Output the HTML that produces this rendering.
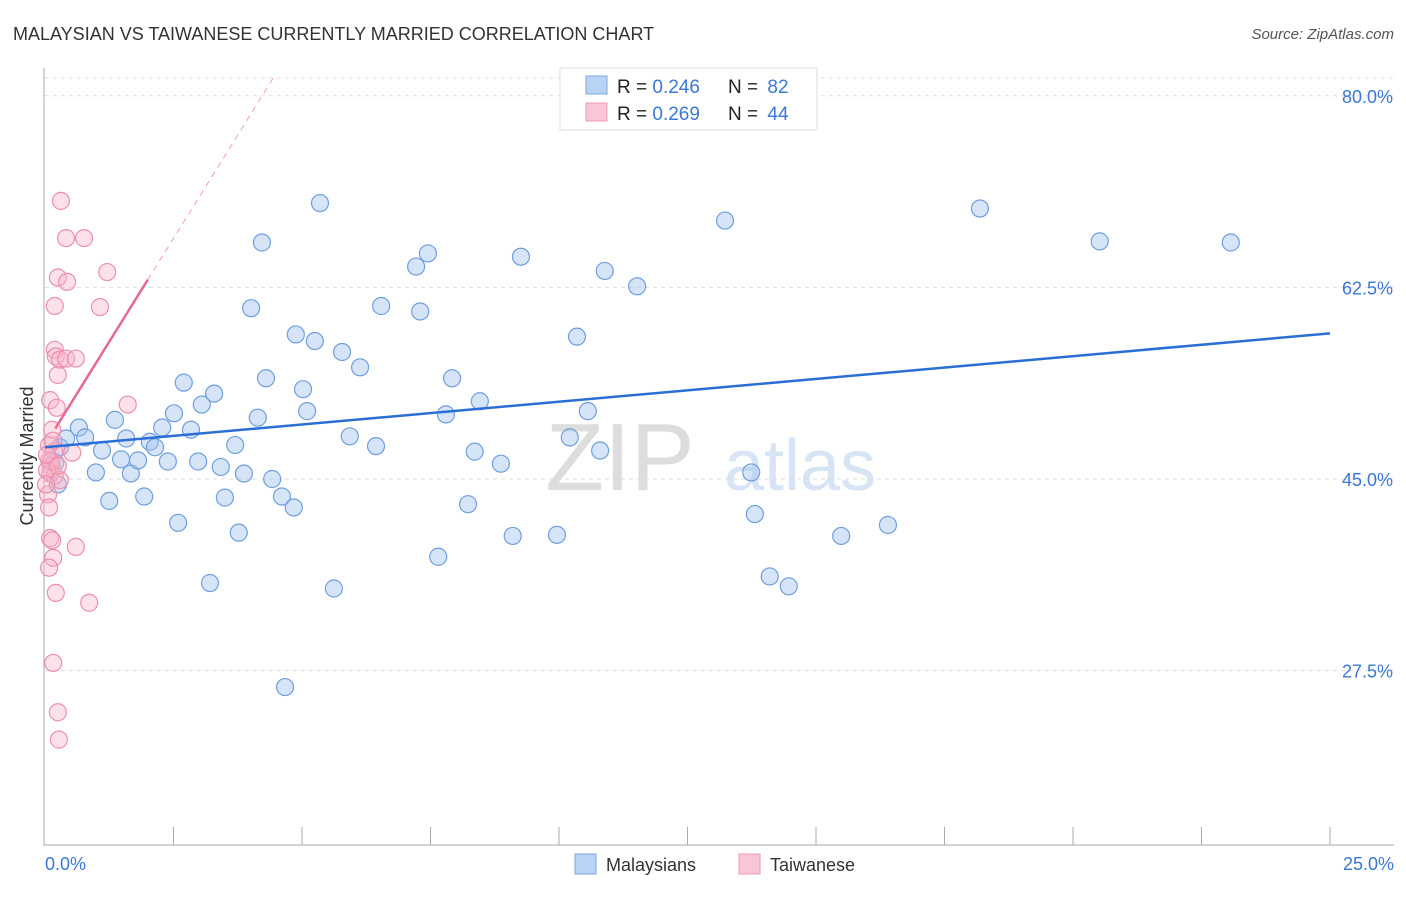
<!DOCTYPE html>
<html><head><meta charset="utf-8"><style>
body{margin:0;background:#fff;font-family:"Liberation Sans",sans-serif;}
svg text{font-family:"Liberation Sans",sans-serif;}
</style></head><body>
<svg id="chart" width="1406" height="892" viewBox="0 0 1406 892">
<text x="13" y="40" font-size="18" fill="#333">MALAYSIAN VS TAIWANESE CURRENTLY MARRIED CORRELATION CHART</text>
<text x="1394" y="39" font-size="15" fill="#555" text-anchor="end" font-style="italic">Source: ZipAtlas.com</text>
<text x="620" y="490" font-size="96" fill="#ddd" font-family="Liberation Serif" text-anchor="middle">ZIP</text>
<text x="800" y="490" font-size="72" fill="#d6e4f5" text-anchor="middle">atlas</text>
<g id="grid"></g>
<g id="axes"></g>
<g id="pts"></g>
<g id="lines"></g>
<text transform="translate(33,456) rotate(-90)" font-size="18" fill="#333" text-anchor="middle">Currently Married</text>
<text x="45" y="870" font-size="18" fill="#3a78d8">0.0%</text>
<text x="1394" y="870" font-size="18" fill="#3a78d8" text-anchor="end">25.0%</text>
<g>
<rect x="560" y="68" width="257" height="62" fill="#fff" stroke="#ddd"/>
<rect x="586" y="76" width="21" height="18" fill="#b9d3f4" stroke="#7aa7e0"/>
<rect x="586" y="103" width="21" height="18" fill="#f9c6d5" stroke="#ee9ab5"/>
<text x="617" y="93" font-size="19" fill="#222">R = <tspan fill="#3a78d8">0.246</tspan></text>
<text x="728" y="93" font-size="19" fill="#222">N = <tspan fill="#3a78d8" dx="4">82</tspan></text>
<text x="617" y="120" font-size="19" fill="#222">R = <tspan fill="#3a78d8">0.269</tspan></text>
<text x="728" y="120" font-size="19" fill="#222">N = <tspan fill="#3a78d8" dx="4">44</tspan></text>
</g>
<g>
<rect x="575" y="854" width="21" height="20" fill="#b9d3f4" stroke="#7aa7e0"/>
<text x="606" y="871" font-size="18" fill="#333">Malaysians</text>
<rect x="739" y="854" width="21" height="20" fill="#f9c6d5" stroke="#ee9ab5"/>
<text x="770" y="871" font-size="18" fill="#333">Taiwanese</text>
</g>
</svg>
<script>
const yTicks=[80,62.5,45,27.5];
const xTickCount=10;
const blueX=[0.29,0.41,0.66,0.78,0.99,1.11,1.25,1.36,1.48,1.58,1.67,1.81,1.93,2.04,2.14,2.28,2.39,2.51,2.59,2.70,2.84,2.98,3.05,3.21,3.29,3.42,3.50,3.70,3.77,3.87,4.01,4.14,4.22,4.30,4.42,4.61,4.67,4.84,4.88,5.02,5.10,5.25,5.35,5.62,5.78,5.93,6.13,6.44,6.54,7.22,7.30,7.45,7.65,7.80,7.92,8.23,8.36,8.46,8.87,9.10,9.26,9.96,10.21,10.35,10.56,10.80,10.89,11.52,13.23,13.74,13.81,14.10,14.47,15.49,16.40,18.19,20.52,23.07,0.2,0.25];
const blueY=[47.9,48.7,49.7,48.8,45.6,47.6,43.0,50.4,46.8,48.7,45.5,46.7,43.4,48.4,47.9,49.7,46.6,51.0,41.0,53.8,49.5,46.6,51.8,35.5,52.8,46.1,43.3,48.1,40.1,45.5,60.6,50.6,66.6,54.2,45.0,43.4,26.0,42.4,58.2,53.2,51.2,57.6,70.2,35.0,56.6,48.9,55.2,48.0,60.8,64.4,60.3,65.6,37.9,50.9,54.2,42.7,47.5,52.1,46.4,39.8,65.3,39.9,48.8,58.0,51.2,47.6,64.0,62.6,68.6,45.6,41.8,36.1,35.2,39.8,40.8,69.7,66.7,66.6,46.5,44.5];
const pinkX=[0.31,0.41,0.76,0.25,0.43,1.21,0.19,1.07,0.19,0.21,0.29,0.41,0.60,0.25,1.61,0.10,0.23,0.14,0.08,0.18,0.53,0.08,0.12,0.10,0.19,0.06,0.08,0.10,0.16,0.60,0.08,0.21,0.86,0.16,0.25,0.27,0.12,0.04,0.16,0.29,0.14,0.04,0.25,0.02];
const pinkY=[70.4,67.0,67.0,63.4,63.0,63.9,60.8,60.7,56.8,56.2,55.9,56.0,56.0,54.5,51.8,52.2,51.5,49.5,48.1,47.5,47.4,46.7,46.2,45.5,45.3,43.6,42.4,39.6,37.8,38.8,36.9,34.6,33.7,28.2,23.7,21.2,46.6,45.8,48.5,44.9,39.4,47.2,46.2,44.5];
const blueTrend=[47.9,58.3];
const pinkTrend=[48.1,63.2];
const X=v=>45+v/25*1285;
const Y=v=>479-(v-45)*10.95;
const NS='http://www.w3.org/2000/svg';
function mk(tag,attrs,parent){const e=document.createElementNS(NS,tag);for(const k in attrs)e.setAttribute(k,attrs[k]);document.getElementById(parent).appendChild(e);return e;}
mk('line',{x1:45,y1:78,x2:1394,y2:78,stroke:'#e0e0e0','stroke-dasharray':'4,4'},'grid');
yTicks.forEach(t=>{
 const g=mk('line',{x1:45,y1:Y(t),x2:1394,y2:Y(t),stroke:'#ddd','stroke-dasharray':'4,4'},'grid');
 
 
 const l=mk('text',{x:1393,y:Y(t)+7,'font-size':18,fill:'#3a78d8','text-anchor':'end'},'grid');
 l.textContent=t.toFixed(1)+'%';
 
 
});
const ya=mk('line',{x1:44,y1:68,x2:44,y2:845,stroke:'#aaa'},'axes');


const xa=mk('line',{x1:44,y1:845,x2:1394,y2:845,stroke:'#aaa'},'axes');


for(let i=1;i<=xTickCount;i++){const v=i*2.5;const t=mk('line',{x1:X(v),y1:827,x2:X(v),y2:845,stroke:'#aaa'},'axes');
 
 }
blueX.forEach((x,i)=>{const c=mk('circle',{cx:X(x),cy:Y(blueY[i]),r:8.5,fill:'rgba(164,196,240,0.45)',stroke:'#6f9fdc','stroke-width':1.2},'pts');
 
 });
pinkX.forEach((x,i)=>{const c=mk('circle',{cx:X(x),cy:Y(pinkY[i]),r:8.5,fill:'rgba(248,180,200,0.4)',stroke:'#eb8fac','stroke-width':1.2},'pts');
 
 });
const bl=mk('line',{x1:X(0),y1:Y(blueTrend[0]),x2:X(25),y2:Y(blueTrend[1]),stroke:'#2a6fd6','stroke-width':2.5},'lines');


const slope=(pinkTrend[1]-pinkTrend[0])/2;
const pl=mk('line',{x1:X(0.2),y1:Y(pinkTrend[0]+slope*0.2),x2:X(2),y2:Y(pinkTrend[1]),stroke:'#e8688f','stroke-width':2.5},'lines');


const xe=(81.6-pinkTrend[0])/slope;
const pd=mk('line',{x1:X(2),y1:Y(pinkTrend[1]),x2:X(xe),y2:Y(pinkTrend[0]+slope*xe),stroke:'#eea0b8','stroke-width':1,'stroke-dasharray':'6,5'},'lines');


</script>
</body></html>
